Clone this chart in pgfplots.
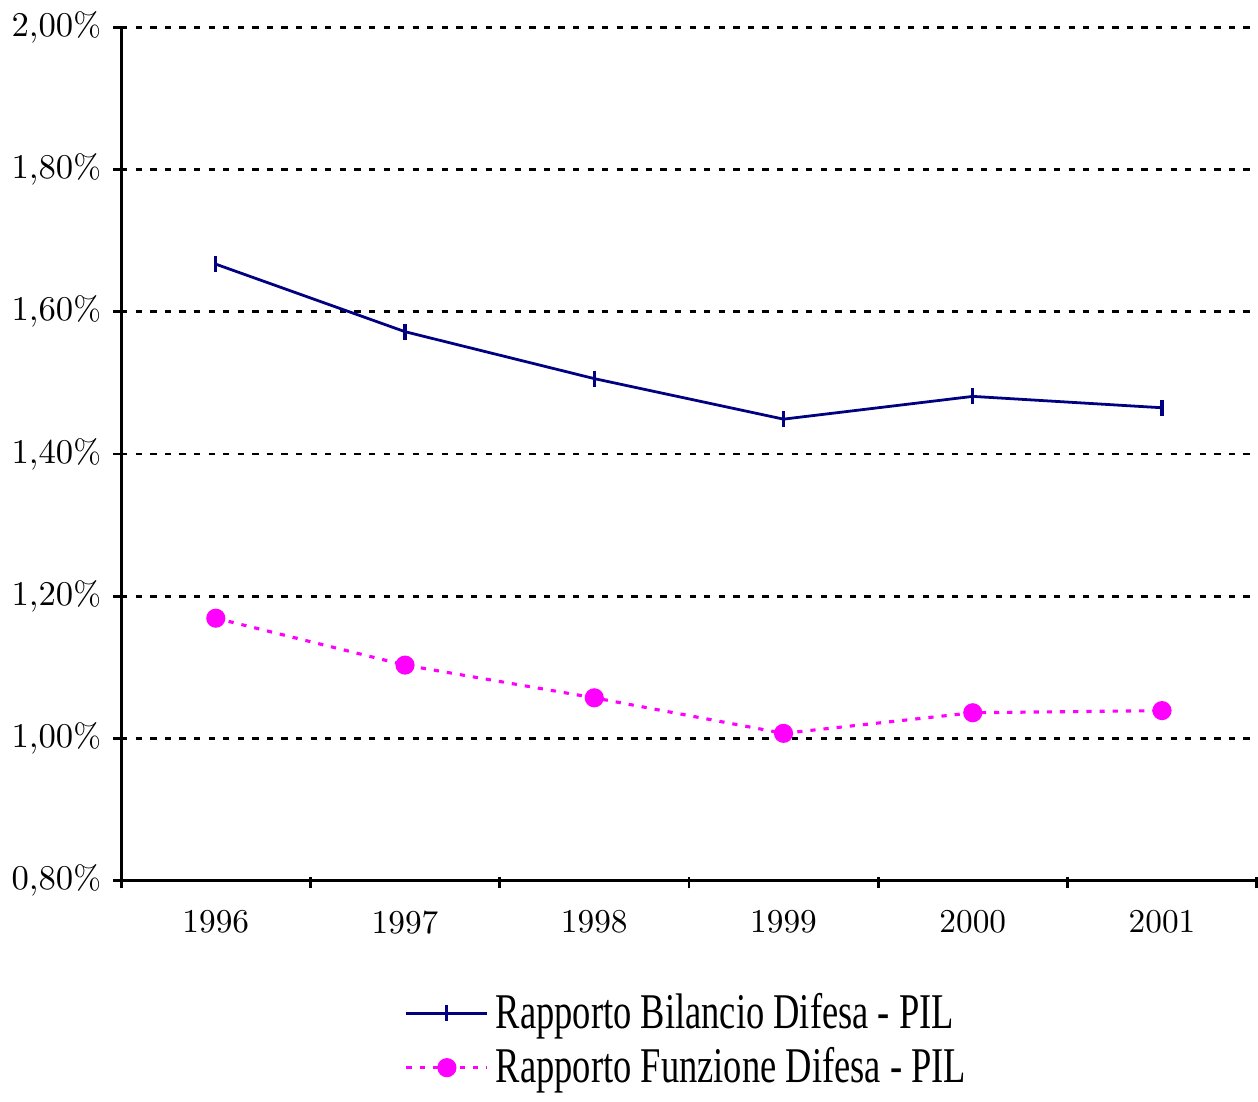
\documentclass[border=0pt]{standalone}
\usepackage{fontspec}
\usepackage{pgfplots}
\pgfplotsset{compat=1.18}
\newfontfamily\legfont[FakeStretch=0.73]{Liberation Serif}
\definecolor{navyline}{RGB}{0,0,128}
\definecolor{magline}{RGB}{255,0,255}

\begin{document}
\begin{tikzpicture}
\begin{axis}[
    scale only axis,
    width=11.5cm, height=8.64cm,
    xmin=0.5, xmax=6.5,
    ymin=0.8, ymax=2.0,
    axis x line*=bottom, axis y line*=left,
    axis line style={-, line width=0.8pt},
    xtick={1,...,6},
    xticklabels={1996,1997,1998,1999,2000,2001},
    major x tick style={draw=none},
    minor xtick={0.5,1.5,...,6.5},
    minor x tick style={black, line width=0.8pt, yshift=0.04cm},
    minor tick length=0.12cm,
    x tick label style={yshift=-0.1cm},
    ytick={0.8,1.0,...,2.0},
    y tick style={black, line width=0.8pt},
    major tick length=0.08cm,
    tick align=outside,
    yticklabel={\pgfmathprintnumber[fixed,fixed zerofill,precision=2,use comma]{\tick}\%},
    ymajorgrids,
    major grid style={black, line width=0.8pt, dash pattern=on 1.8pt off 2.4pt},
    tick label style={font=\fontsize{9.6}{12}\selectfont},
    legend style={at={(0.5,-0.115)}, anchor=north, draw=none,
        font=\legfont\fontsize{14.4}{16}\selectfont, row sep=0pt, cells={anchor=west}},
    legend image code/.code={
        \draw[#1] (0cm,0cm) -- (0.41cm,0cm) plot coordinates {(0.41cm,0cm)} -- (0.82cm,0cm);
    },
]
\addplot[navyline, line width=0.8pt, mark=|, mark size=2.3pt, mark options={solid, line width=0.9pt}]
    coordinates {(1,1.667) (2,1.572) (3,1.506) (4,1.449) (5,1.481) (6,1.465)};
\addlegendentry{Rapporto Bilancio Difesa - PIL}
\addplot[magline, line width=0.9pt, dash pattern=on 1.5pt off 2.3pt, mark=*, mark size=2.3pt, mark options={solid, fill=magline}]
    coordinates {(1,1.169) (2,1.103) (3,1.057) (4,1.007) (5,1.036) (6,1.039)};
\addlegendentry{Rapporto Funzione Difesa - PIL}
\end{axis}
\end{tikzpicture}
\end{document}
